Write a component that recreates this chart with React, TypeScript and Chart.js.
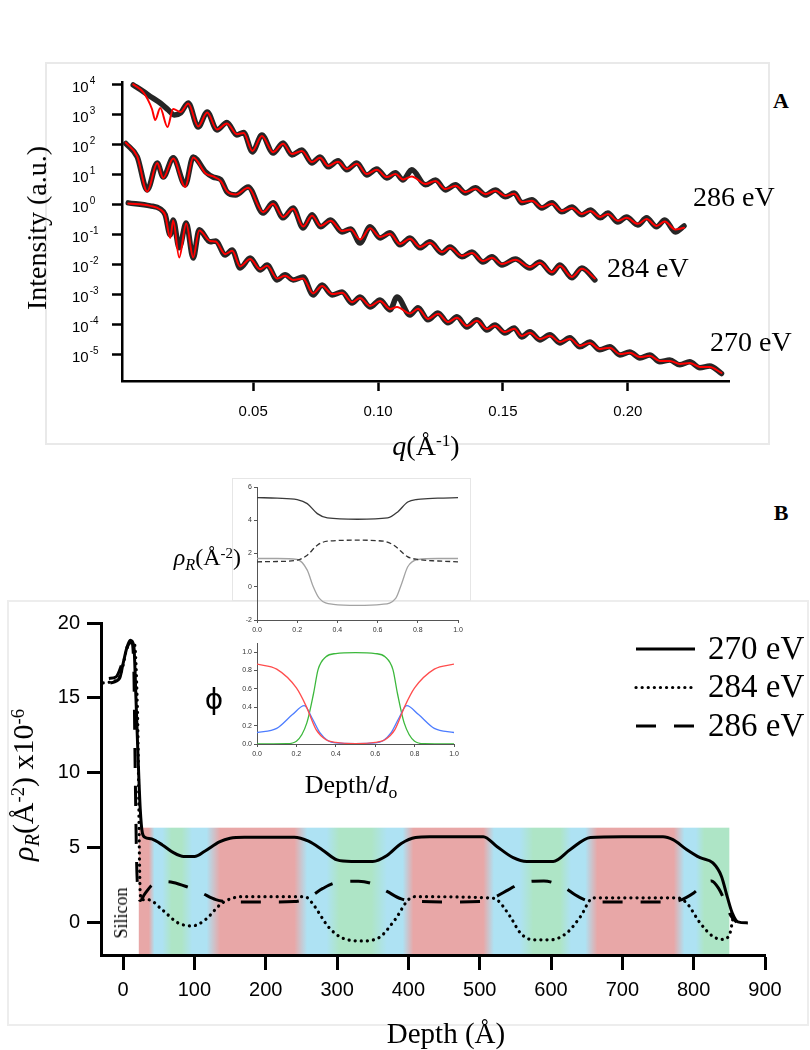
import React, { useEffect, useRef } from "react";
import { Chart, registerables } from "chart.js";

Chart.register(...registerables);

type Pt = [number, number];

// ---------------- Panel A : reflectivity, [q (Å^-1), log10 intensity] ----------------
const refl286: Pt[] = [
  [0.002, 4.0], [0.0061, 3.78], [0.0095, 3.58], [0.0128, 3.4], [0.016, 3.17], [0.0185, 3.0], [0.021, 3.07],
  [0.024, 3.4], [0.028, 2.6], [0.0316, 3.1], [0.0355, 2.5], [0.0395, 2.75], [0.0435, 2.33], [0.0462, 2.42],
  [0.0497, 1.77], [0.0535, 2.33], [0.058, 1.73], [0.062, 2.07], [0.0655, 1.67], [0.0695, 1.83], [0.0735, 1.4],
  [0.0768, 1.6], [0.08, 1.27], [0.084, 1.47], [0.0875, 1.17], [0.0915, 1.4], [0.0955, 1.0], [0.0995, 1.2],
  [0.1035, 0.9], [0.107, 1.07], [0.11, 0.83], [0.1135, 1.17], [0.119, 0.67], [0.123, 0.83], [0.127, 0.5],
  [0.131, 0.67], [0.135, 0.4], [0.139, 0.57], [0.143, 0.33], [0.147, 0.5], [0.151, 0.27], [0.1545, 0.4],
  [0.1576, 0.07], [0.1616, 0.17], [0.1656, -0.1], [0.1696, 0.07], [0.1736, -0.23], [0.1776, -0.07],
  [0.1816, -0.33], [0.185, -0.17], [0.189, -0.43], [0.192, -0.27], [0.196, -0.57], [0.1995, -0.4],
  [0.204, -0.67], [0.2075, -0.43], [0.2115, -0.73], [0.2148, -0.5], [0.219, -0.9], [0.2225, -0.7],
];
const fit286: Pt[] = [
  [0.002, 4.02], [0.0061, 3.75], [0.0095, 3.2], [0.0108, 2.83], [0.0128, 3.23], [0.0157, 2.6], [0.018, 3.2],
  [0.021, 3.1], [0.024, 3.38], [0.028, 2.62], [0.0316, 3.08], [0.0355, 2.52], [0.0395, 2.72], [0.0435, 2.36],
  [0.0462, 2.4], [0.0497, 1.8], [0.0535, 2.3], [0.058, 1.76], [0.062, 2.04], [0.0655, 1.7], [0.0695, 1.8],
  [0.0735, 1.43], [0.0768, 1.57], [0.08, 1.3], [0.084, 1.44], [0.0875, 1.2], [0.0915, 1.37], [0.0955, 1.03],
  [0.0995, 1.17], [0.1035, 0.93], [0.107, 1.03], [0.11, 0.85], [0.1135, 0.95], [0.119, 0.7], [0.123, 0.8],
  [0.127, 0.53], [0.131, 0.64], [0.135, 0.43], [0.139, 0.54], [0.143, 0.36], [0.147, 0.47], [0.151, 0.3],
  [0.1545, 0.37], [0.1576, 0.1], [0.1616, 0.14], [0.1656, -0.07], [0.1696, 0.04], [0.1736, -0.2],
  [0.1776, -0.1], [0.1816, -0.3], [0.185, -0.2], [0.189, -0.4], [0.192, -0.3], [0.196, -0.53], [0.1995, -0.43],
  [0.204, -0.63], [0.2075, -0.47], [0.2115, -0.7], [0.2148, -0.55], [0.219, -0.82], [0.2225, -0.76],
];
const refl284: Pt[] = [
  [-0.001, 2.05], [0.0036, 1.6], [0.0076, 0.5], [0.0116, 1.4], [0.014, 0.93], [0.018, 1.57], [0.0228, 0.67],
  [0.026, 1.6], [0.031, 1.1], [0.034, 0.93], [0.037, 0.85], [0.0396, 0.43], [0.043, 0.33], [0.048, 0.6],
  [0.054, -0.27], [0.058, 0.07], [0.062, -0.43], [0.066, -0.1], [0.07, -0.77], [0.0736, -0.33], [0.077, -0.73],
  [0.081, -0.5], [0.0856, -0.9], [0.089, -0.8], [0.0928, -1.27], [0.0968, -0.73], [0.1008, -1.1],
  [0.1048, -0.93], [0.1088, -1.33], [0.1128, -1.1], [0.1168, -1.43], [0.1208, -1.23], [0.1256, -1.6],
  [0.1288, -1.4], [0.1336, -1.73], [0.1376, -1.57], [0.142, -1.9], [0.1456, -1.73], [0.1496, -2.0],
  [0.155, -1.8], [0.1608, -2.1], [0.1648, -1.9], [0.1696, -2.27], [0.1728, -2.0], [0.1776, -2.43],
  [0.1816, -2.1], [0.1868, -2.5],
];
const fit284: Pt[] = [
  [-0.001, 2.08], [0.0036, 1.62], [0.0076, 0.45], [0.0116, 1.4], [0.014, 0.9], [0.018, 1.55], [0.0228, 0.6],
  [0.026, 1.58], [0.031, 1.05], [0.034, 0.95], [0.037, 0.8], [0.0396, 0.45], [0.043, 0.35], [0.048, 0.57],
  [0.054, -0.24], [0.058, 0.04], [0.062, -0.4], [0.066, -0.13], [0.07, -0.72], [0.0736, -0.36], [0.077, -0.7],
  [0.081, -0.53], [0.0856, -0.87], [0.089, -0.82], [0.0928, -1.15], [0.0968, -0.78], [0.1008, -1.07],
  [0.1048, -0.96], [0.1088, -1.3], [0.1128, -1.13], [0.1168, -1.4], [0.1208, -1.26], [0.1256, -1.57],
  [0.1288, -1.43], [0.1336, -1.7], [0.1376, -1.6], [0.142, -1.87], [0.1456, -1.76], [0.1496, -1.97],
  [0.155, -1.83], [0.1608, -2.07], [0.1648, -1.93], [0.1696, -2.24], [0.1728, -2.03], [0.1776, -2.4],
  [0.1816, -2.13], [0.1868, -2.45],
];
const refl270: Pt[] = [
  [0.0, 0.07], [0.0088, -0.03], [0.0128, -0.13], [0.0148, -0.33], [0.0168, -1.0], [0.018, -0.5], [0.0204, -1.43],
  [0.0232, -0.6], [0.026, -1.77], [0.0284, -0.83], [0.0328, -1.23], [0.035, -1.2], [0.0388, -1.67],
  [0.0416, -1.5], [0.0448, -2.1], [0.0488, -1.77], [0.0528, -2.17], [0.0556, -2.0], [0.0596, -2.5],
  [0.0628, -2.33], [0.066, -2.5], [0.07, -2.4], [0.074, -3.0], [0.0776, -2.67], [0.0816, -3.0], [0.0856, -2.9],
  [0.0896, -3.27], [0.0928, -3.07], [0.0968, -3.4], [0.1008, -3.17], [0.1048, -3.5], [0.1076, -3.07],
  [0.1128, -3.67], [0.116, -3.43], [0.12, -3.83], [0.124, -3.6], [0.128, -3.93], [0.1316, -3.73],
  [0.1356, -4.07], [0.1396, -3.83], [0.1436, -4.17], [0.1468, -4.0], [0.1508, -4.27], [0.1545, -4.1],
  [0.1575, -4.4], [0.1608, -4.23], [0.1648, -4.5], [0.1688, -4.33], [0.1728, -4.6], [0.1768, -4.43],
  [0.1808, -4.73], [0.1848, -4.57], [0.1888, -4.83], [0.1928, -4.73], [0.1968, -5.0], [0.2008, -4.9],
  [0.2048, -5.1], [0.2088, -5.0], [0.2128, -5.23], [0.2168, -5.17], [0.2208, -5.33], [0.2248, -5.23],
  [0.2288, -5.43], [0.2328, -5.37], [0.2375, -5.62],
];
const fit270: Pt[] = [
  [0.0, 0.05], [0.0088, -0.03], [0.0128, -0.15], [0.0148, -0.35], [0.0168, -1.1], [0.018, -0.52], [0.0204, -1.75],
  [0.0232, -0.62], [0.026, -1.75], [0.0284, -0.85], [0.0328, -1.2], [0.035, -1.22], [0.0388, -1.64],
  [0.0416, -1.53], [0.0448, -2.05], [0.0488, -1.8], [0.0528, -2.14], [0.0556, -2.03], [0.0596, -2.45],
  [0.0628, -2.36], [0.066, -2.5], [0.07, -2.45], [0.074, -2.95], [0.0776, -2.7], [0.0816, -2.97], [0.0856, -2.93],
  [0.0896, -3.24], [0.0928, -3.1], [0.0968, -3.37], [0.1008, -3.2], [0.1048, -3.47], [0.1076, -3.4],
  [0.1128, -3.62], [0.116, -3.46], [0.12, -3.8], [0.124, -3.63], [0.128, -3.9], [0.1316, -3.76],
  [0.1356, -4.04], [0.1396, -3.86], [0.1436, -4.14], [0.1468, -4.03], [0.1508, -4.24], [0.1545, -4.13],
  [0.1575, -4.37], [0.1608, -4.26], [0.1648, -4.47], [0.1688, -4.36], [0.1728, -4.57], [0.1768, -4.46],
  [0.1808, -4.7], [0.1848, -4.6], [0.1888, -4.8], [0.1928, -4.76], [0.1968, -4.97], [0.2008, -4.93],
  [0.2048, -5.07], [0.2088, -5.03], [0.2128, -5.2], [0.2168, -5.2], [0.2208, -5.3], [0.2248, -5.27],
  [0.2288, -5.4], [0.2328, -5.4], [0.2375, -5.6],
];
const qTicks = [0.05, 0.1, 0.15, 0.2];
const decadeTicks = [4, 3, 2, 1, 0, -1, -2, -3, -4, -5];

// ---------------- Panel B inset (top): rho_R vs depth/d0 ----------------
const insetSolid: Pt[] = [
  [0, 5.36], [0.1, 5.33], [0.2, 5.24], [0.25, 5.0], [0.3, 4.4], [0.35, 4.14], [0.5, 4.06], [0.65, 4.14],
  [0.7, 4.5], [0.75, 5.1], [0.8, 5.26], [0.9, 5.33], [1.0, 5.36],
];
const insetDashed: Pt[] = [
  [0, 1.5], [0.1, 1.52], [0.2, 1.6], [0.25, 1.9], [0.3, 2.5], [0.35, 2.74], [0.5, 2.8], [0.63, 2.74],
  [0.68, 2.5], [0.75, 1.8], [0.8, 1.64], [0.9, 1.55], [1.0, 1.5],
];
const insetGray: Pt[] = [
  [0, 1.7], [0.1, 1.7], [0.2, 1.64], [0.25, 1.0], [0.28, 0.0], [0.31, -0.7], [0.38, -1.06], [0.5, -1.12],
  [0.62, -1.06], [0.69, -0.7], [0.72, 0.2], [0.75, 1.2], [0.8, 1.64], [0.9, 1.7], [1.0, 1.7],
];
const insetXTicks = [0, 0.2, 0.4, 0.6, 0.8, 1.0];
const insetYTicks = [-2, 0, 2, 4, 6];

// ---------------- Panel B inset (bottom): volume fractions ----------------
const phiRed: Pt[] = [
  [0, 0.87], [0.1, 0.815], [0.2, 0.61], [0.25, 0.41], [0.3, 0.156], [0.35, 0.047], [0.4, 0.018], [0.5, 0.005],
  [0.6, 0.018], [0.65, 0.047], [0.7, 0.156], [0.75, 0.41], [0.8, 0.61], [0.9, 0.815], [1.0, 0.87],
];
const phiBlue: Pt[] = [
  [0, 0.125], [0.1, 0.17], [0.18, 0.32], [0.24, 0.417], [0.28, 0.28], [0.32, 0.12], [0.36, 0.036], [0.4, 0.012],
  [0.5, 0.005], [0.6, 0.012], [0.64, 0.036], [0.68, 0.12], [0.72, 0.28], [0.76, 0.417], [0.82, 0.32],
  [0.9, 0.17], [1.0, 0.125],
];
const phiGreen: Pt[] = [
  [0, 0.0], [0.15, 0.003], [0.2, 0.03], [0.253, 0.23], [0.287, 0.55], [0.31, 0.81], [0.35, 0.95], [0.4, 0.985],
  [0.5, 0.995], [0.6, 0.985], [0.65, 0.95], [0.69, 0.81], [0.713, 0.55], [0.747, 0.23], [0.8, 0.03],
  [0.85, 0.003], [1.0, 0.0],
];
const phiYTicks = [0, 0.2, 0.4, 0.6, 0.8, 1.0];

// ---------------- Panel B main: SLD profiles, [depth (Å), rho_R x1e-6] ----------------
const sld270: Pt[] = [
  [-18, 16.0], [-5, 16.3], [0, 17.3], [5, 18.3], [10, 18.85], [15, 18.5], [18, 15], [21, 11], [24, 7.6], [27, 6],
  [31, 5.7], [40, 5.6], [55, 5.2], [70, 4.7], [85, 4.43], [100, 4.43], [115, 4.8], [135, 5.4], [150, 5.65],
  [170, 5.72], [240, 5.72], [260, 5.45], [280, 4.85], [300, 4.2], [320, 4.1], [350, 4.1], [370, 4.5],
  [390, 5.3], [410, 5.7], [430, 5.75], [505, 5.75], [524, 5.1], [547, 4.35], [566, 4.1], [603, 4.1],
  [627, 4.9], [655, 5.7], [700, 5.75], [757, 5.75], [771, 5.55], [790, 4.9], [809, 4.35], [827, 4.0],
  [839, 3.1], [847, 1.75], [854, 0.67], [862, 0.07], [876, 0.0],
];
const sld284: Pt[] = [
  [-28, 16.0], [-15, 16.1], [-5, 16.4], [0, 17.2], [5, 18.3], [10, 18.7], [16, 18.6], [19, 16], [21, 12],
  [22, 8], [23, 4], [24, 2], [26, 1.55], [35, 1.55], [55, 0.87], [77, 0.0], [97, -0.2], [115, 0.2], [139, 1.33],
  [167, 1.75], [255, 1.75], [265, 1.33], [288, -0.27], [307, -1.0], [335, -1.2], [358, -1.0], [381, 0.2],
  [400, 1.55], [410, 1.75], [513, 1.67], [524, 1.55], [543, 0.4], [557, -0.67], [575, -1.13], [599, -1.13],
  [622, -0.67], [641, 0.4], [659, 1.67], [777, 1.67], [790, 1.33], [809, 0.0], [827, -0.9], [841, -1.1],
  [851, -0.67], [855, 0.3],
];
const sld286: Pt[] = [
  [-20, 16.3], [-10, 16.4], [0, 17.5], [8, 18.6], [12, 18.7], [15, 17], [17, 10], [19, 4], [21, 2], [24, 1.5],
  [30, 1.9], [40, 2.5], [55, 2.75], [70, 2.7], [90, 2.4], [110, 2.0], [130, 1.55], [150, 1.4], [200, 1.4],
  [240, 1.42], [260, 1.7], [280, 2.3], [300, 2.7], [330, 2.78], [350, 2.6], [370, 2.1], [390, 1.6], [410, 1.45],
  [460, 1.4], [500, 1.42], [520, 1.7], [540, 2.2], [560, 2.7], [590, 2.8], [615, 2.45], [640, 1.7], [660, 1.4],
  [700, 1.4], [760, 1.4], [780, 1.5], [800, 2.0], [815, 2.6], [825, 2.8], [835, 2.3], [845, 1.3], [852, 0.5],
  [860, 0.05],
];
const depthTicks = [0, 100, 200, 300, 400, 500, 600, 700, 800, 900];
const sldTicks = [0, 5, 10, 15, 20];
// colour band behind the profiles: [depth (Å), block]
const bandStops: [number, string][] = [
  [22, "red"], [36, "red"], [44, "blue"], [55, "blue"], [68, "green"], [82, "green"], [97, "blue"], [117, "blue"],
  [136, "red"], [240, "red"], [258, "blue"], [285, "blue"], [303, "green"], [348, "green"], [370, "blue"],
  [392, "blue"], [407, "red"], [505, "red"], [520, "blue"], [556, "blue"], [575, "green"], [613, "green"],
  [628, "blue"], [648, "blue"], [665, "red"], [772, "red"], [787, "blue"], [803, "blue"], [815, "green"],
  [850, "green"],
];
const bandTop = 6.35;
const bandColors: Record<string, string> = { red: "#e8a7a7", blue: "#aee2f3", green: "#aee5c6" };

// ---------------- helpers ----------------
const SERIF = '"Liberation Serif", "Times New Roman", serif';
const SANS = '"Liberation Sans", Arial, sans-serif';
const NARROW = '"Liberation Sans Narrow", "Liberation Sans", Arial, sans-serif';

const xy = (pts: Pt[]) => pts.map(([x, y]) => ({ x, y }));
const logxy = (pts: Pt[]) => pts.map(([x, l]) => ({ x, y: Math.pow(10, l) }));

function axisStyle(color: string, width: number, tickLength: number) {
  return {
    grid: { display: true, drawOnChartArea: false, drawTicks: true, tickLength, tickWidth: width, tickColor: color, color },
    border: { display: true, color, width },
  };
}

function frameOptions(W: number, H: number, area: { l: number; t: number; r: number; b: number }) {
  return {
    layout: { padding: { left: 0, top: area.t, right: W - area.r, bottom: 0 } },
    xFit: (s: any) => { s.height = H - area.b; },
    yFit: (s: any) => { s.width = area.l; },
  };
}

const decadeLabels = {
  id: "decadeLabels",
  afterDraw(chart: any) {
    const y = chart.scales.y;
    const ctx = chart.ctx;
    ctx.save();
    ctx.fillStyle = "#000";
    ctx.textBaseline = "middle";
    ctx.textAlign = "left";
    const x0 = chart.chartArea.left - 50;
    y.ticks.forEach((t: any) => {
      const py = y.getPixelForValue(t.value);
      const e = Math.round(Math.log10(t.value));
      ctx.font = `15px ${NARROW}`;
      ctx.fillText("10", x0, py + 3);
      const w = ctx.measureText("10").width;
      ctx.font = `10px ${NARROW}`;
      ctx.fillText(String(e), x0 + w + 1, py - 4);
    });
    ctx.restore();
  },
};

const bandPlugin = {
  id: "band",
  beforeDraw(chart: any) {
    const { ctx, chartArea, scales } = chart;
    const x = scales.x, y = scales.y;
    const x0 = x.getPixelForValue(bandStops[0][0]);
    const x1 = x.getPixelForValue(bandStops[bandStops.length - 1][0]);
    const g = ctx.createLinearGradient(x0, 0, x1, 0);
    bandStops.forEach(([d, c]) => g.addColorStop((x.getPixelForValue(d) - x0) / (x1 - x0), bandColors[c]));
    const top = y.getPixelForValue(bandTop);
    ctx.save();
    ctx.fillStyle = g;
    ctx.fillRect(x0, top, x1 - x0, chartArea.bottom - top);
    ctx.restore();
  },
};

const lineLegend = {
  id: "lineLegend",
  afterDraw(chart: any, _a: any, opts: any) {
    const ctx = chart.ctx;
    chart.data.datasets.forEach((ds: any, i: number) => {
      const y = opts.y0 + i * opts.dy;
      ctx.save();
      ctx.strokeStyle = ds.borderColor;
      ctx.lineWidth = ds.borderWidth;
      ctx.setLineDash(ds.borderDash || []);
      ctx.lineCap = ds.borderCapStyle || "butt";
      ctx.beginPath();
      ctx.moveTo(opts.x0, y);
      ctx.lineTo(opts.x1, y);
      ctx.stroke();
      ctx.setLineDash([]);
      ctx.fillStyle = "#000";
      ctx.font = opts.font;
      ctx.textBaseline = "middle";
      ctx.textAlign = "left";
      ctx.fillText(ds.label, opts.textX, y + 1);
      ctx.restore();
    });
  },
};

// ---------------- chart configs ----------------
function panelAConfig(W: number, H: number) {
  const f = frameOptions(W, H, { l: 76, t: 20, r: 683, b: 319 });
  const ln = (label: string, pts: Pt[], color: string, width: number, order: number) => ({
    label, data: logxy(pts), borderColor: color, borderWidth: width, pointRadius: 0, order,
    cubicInterpolationMode: "monotone", borderJoinStyle: "round", borderCapStyle: "round", fill: false,
  });
  return {
    type: "line",
    data: {
      datasets: [
        ln("286 eV fit", fit286, "#ff0000", 2, 0),
        ln("284 eV fit", fit284, "#ff0000", 2, 0),
        ln("270 eV fit", fit270, "#ff0000", 2, 0),
        ln("286 eV data", refl286, "#262626", 5.5, 1),
        ln("284 eV data", refl284, "#262626", 5.5, 1),
        ln("270 eV data", refl270, "#262626", 5.5, 1),
      ],
    },
    options: {
      responsive: false, animation: false, events: [], layout: f.layout,
      plugins: { legend: { display: false }, tooltip: { enabled: false } },
      scales: {
        x: {
          type: "linear", min: -0.0025, max: 0.2405, afterFit: f.xFit,
          afterBuildTicks: (s: any) => { s.ticks = qTicks.map((v) => ({ value: v })); },
          ticks: { callback: (v: any) => Number(v).toFixed(2), font: { family: NARROW, size: 15 }, color: "#000", padding: 12, maxRotation: 0, autoSkip: false },
          ...axisStyle("#000", 2.5, 10),
        },
        y: {
          type: "logarithmic", min: Math.pow(10, -5.87), max: Math.pow(10, 4.1), afterFit: f.yFit,
          afterBuildTicks: (s: any) => { s.ticks = decadeTicks.map((e) => ({ value: Math.pow(10, e) })); },
          ticks: { display: false },
          ...axisStyle("#000", 2.5, 10),
        },
      },
    },
    plugins: [decadeLabels],
  };
}

function insetConfig(W: number, H: number, area: any, datasets: any[], yMin: number, yMax: number, yTicks: number[], yFmt: (v: number) => string) {
  const f = frameOptions(W, H, area);
  return {
    type: "line",
    data: { datasets },
    options: {
      responsive: false, animation: false, events: [], layout: f.layout,
      plugins: { legend: { display: false }, tooltip: { enabled: false } },
      scales: {
        x: {
          type: "linear", min: 0, max: 1, afterFit: f.xFit,
          afterBuildTicks: (s: any) => { s.ticks = insetXTicks.map((v) => ({ value: v })); },
          ticks: { callback: (v: any) => Number(v).toFixed(1), font: { family: SANS, size: 7 }, color: "#333", padding: 3, maxRotation: 0, autoSkip: false },
          ...axisStyle("#555", 1, 3),
        },
        y: {
          type: "linear", min: yMin, max: yMax, afterFit: f.yFit,
          afterBuildTicks: (s: any) => { s.ticks = yTicks.map((v) => ({ value: v })); },
          ticks: { callback: (v: any) => yFmt(Number(v)), font: { family: SANS, size: 7 }, color: "#333", padding: 2, autoSkip: false },
          ...axisStyle("#555", 1, 3),
        },
      },
    },
  };
}

const thin = (label: string, pts: Pt[], color: string, dash: number[] = []) => ({
  label, data: xy(pts), borderColor: color, borderWidth: 1.3, borderDash: dash, pointRadius: 0,
  cubicInterpolationMode: "monotone", fill: false,
});

function insetTopConfig(W: number, H: number) {
  return insetConfig(W, H, { l: 25, t: 9, r: 226, b: 142 }, [
    thin("270 eV", insetSolid, "#3a3a3a"),
    thin("286 eV", insetDashed, "#333333", [5, 3]),
    thin("284 eV", insetGray, "#a3a3a3"),
  ], -2, 6, insetYTicks, (v) => String(v));
}

function insetPhiConfig(W: number, H: number) {
  return insetConfig(W, H, { l: 25, t: 7, r: 222, b: 108 }, [
    thin("red block", phiRed, "#ff4d4d"),
    thin("blue block", phiBlue, "#4d7dff"),
    thin("green block", phiGreen, "#3cb83c"),
  ], 0, 1.1, phiYTicks, (v) => v.toFixed(1));
}

function mainBConfig(W: number, H: number) {
  const f = frameOptions(W, H, { l: 93, t: 22, r: 757, b: 354 });
  const base = { pointRadius: 0, cubicInterpolationMode: "monotone", fill: false, borderColor: "#000", borderWidth: 3 };
  return {
    type: "line",
    data: {
      datasets: [
        { ...base, label: "270 eV", data: xy(sld270), borderJoinStyle: "round" },
        { ...base, label: "284 eV", data: xy(sld284), borderDash: [0.1, 6], borderCapStyle: "round", borderWidth: 3.2 },
        { ...base, label: "286 eV", data: xy(sld286), borderDash: [20, 18] },
      ],
    },
    options: {
      responsive: false, animation: false, events: [], layout: f.layout,
      plugins: {
        legend: { display: false }, tooltip: { enabled: false },
        lineLegend: { x0: 628, x1: 687, y0: 48, dy: 38.5, textX: 700, font: `33px ${SERIF}` },
      },
      scales: {
        x: {
          type: "linear", min: -31, max: 900, afterFit: f.xFit,
          afterBuildTicks: (s: any) => { s.ticks = depthTicks.map((v) => ({ value: v })); },
          ticks: { font: { family: SANS, size: 20 }, color: "#000", padding: 8, maxRotation: 0, autoSkip: false },
          ...axisStyle("#000", 3, 15),
        },
        y: {
          type: "linear", min: -2.14, max: 20, afterFit: f.yFit,
          afterBuildTicks: (s: any) => { s.ticks = sldTicks.map((v) => ({ value: v })); },
          ticks: { font: { family: SANS, size: 20 }, color: "#000", padding: 7, autoSkip: false },
          ...axisStyle("#000", 3, 14),
        },
      },
    },
    plugins: [bandPlugin, lineLegend],
  };
}

// ---------------- components ----------------
function ChartCanvas({ left, top, width, height, make, bg }: any) {
  const ref = useRef<HTMLCanvasElement>(null);
  useEffect(() => {
    const chart = new Chart(ref.current as HTMLCanvasElement, make(width, height) as any);
    return () => chart.destroy();
  }, []);
  return (
    <canvas
      ref={ref}
      width={width}
      height={height}
      style={{ position: "absolute", left, top, width, height, background: bg || "transparent" }}
    />
  );
}

const sup = (t: string) => <span style={{ fontSize: "0.62em", position: "relative", top: "-0.5em" }}>{t}</span>;
const sub = (t: any) => <span style={{ fontSize: "0.68em", position: "relative", top: "0.3em" }}>{t}</span>;

function Label({ x, y, size, children, rotate, align, bold, family }: any) {
  const tx = align === "left" ? "0" : align === "right" ? "-100%" : "-50%";
  return (
    <div
      style={{
        position: "absolute", left: x, top: y, whiteSpace: "nowrap", lineHeight: 1, fontSize: size,
        fontFamily: family || SERIF, fontWeight: bold ? "bold" : "normal", color: "#000",
        transform: `translate(${tx}, -50%)${rotate ? ` rotate(${rotate}deg)` : ""}`,
        transformOrigin: rotate ? "center center" : undefined,
      }}
    >
      {children}
    </div>
  );
}

export default function App() {
  return (
    <div style={{ position: "absolute", left: 0, top: 0, width: 810, height: 1050, background: "#fff", overflow: "hidden" }}>
      {/* Panel A */}
      <div style={{ position: "absolute", left: 45, top: 62, width: 725, height: 383, border: "2px solid #e9e9e9", boxSizing: "border-box" }} />
      <ChartCanvas left={46} top={62} width={722} height={381} make={panelAConfig} />
      <Label x={781} y={101} size={22} bold>A</Label>
      <Label x={37} y={228} size={28} rotate={-90}>Intensity (a.u.)</Label>
      <Label x={426} y={446} size={28}><i>q</i>(Å{sup("-1")})</Label>
      <Label x={693} y={197} size={28} align="left">286 eV</Label>
      <Label x={607} y={268} size={28} align="left">284 eV</Label>
      <Label x={710} y={342} size={28} align="left">270 eV</Label>

      {/* Panel B main */}
      <div style={{ position: "absolute", left: 7, top: 600, width: 802, height: 426, border: "2px solid #ededed", boxSizing: "border-box" }} />
      <ChartCanvas left={8} top={601} width={800} height={440} make={mainBConfig} />

      {/* Panel B insets */}
      <div style={{ position: "absolute", left: 232, top: 478, width: 239, height: 123, border: "1px solid #e6e6e6", boxSizing: "border-box", background: "#fff" }} />
      <ChartCanvas left={232} top={478} width={240} height={160} make={insetTopConfig} />
      <ChartCanvas left={232} top={636} width={240} height={130} make={insetPhiConfig} />

      <Label x={781} y={513} size={22} bold>B</Label>
      <Label x={241} y={557} size={24} align="right"><i>ρ</i>{sub(<i>R</i>)}(Å{sup("-2")})</Label>
      <Label x={214} y={700} size={28} family={'"DejaVu Sans", sans-serif'}>ϕ</Label>
      <Label x={351} y={785} size={26}>Depth/<i>d</i>{sub("o")}</Label>
      <Label x={121} y={913} size={18} rotate={-90}>Silicon</Label>
      <Label x={23} y={785} size={30} rotate={-90}><i>ρ</i>{sub(<i>R</i>)}(Å{sup("-2")}) x10{sup("-6")}</Label>
      <Label x={446} y={1033} size={29}>Depth (Å)</Label>
    </div>
  );
}
